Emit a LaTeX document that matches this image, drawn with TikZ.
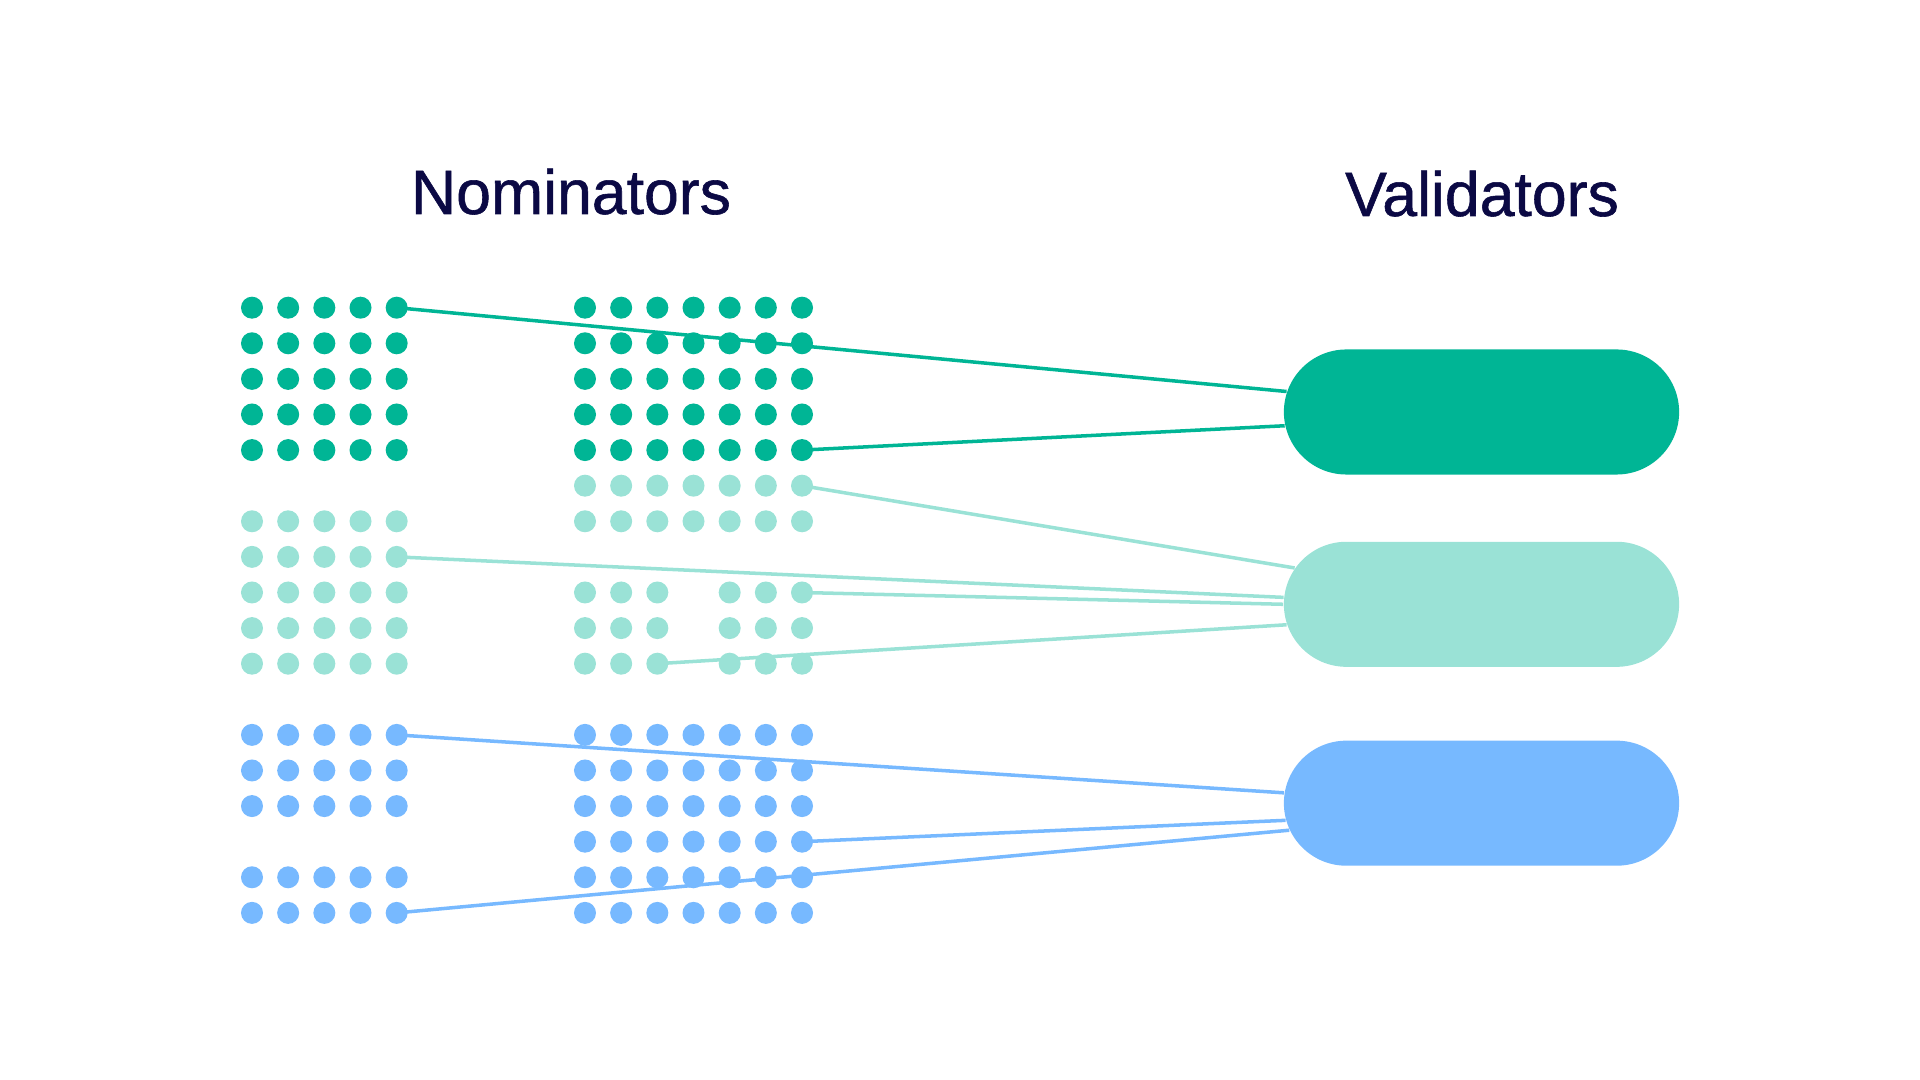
\documentclass[tikz,border=0pt]{standalone}
\usepackage{fontspec}
\setmainfont{Liberation Sans}
\newfontfamily\headfont{Liberation Sans}[
    BoldFont={Liberation Sans},
    BoldFeatures={FakeBold=0.9}
]
\usetikzlibrary{shapes.misc}

\definecolor{navy}{HTML}{0B0944}
\definecolor{stakeA}{HTML}{00B595}
\definecolor{stakeB}{HTML}{9AE2D6}
\definecolor{stakeC}{HTML}{77B9FF}

\begin{document}
\begin{tikzpicture}[
    x=0.01cm,
    y=-0.01cm,
    title/.style={
        anchor=base,
        text=navy,
        font=\headfont\bfseries\fontsize{17.8}{20}\selectfont
    },
    dot/.style={circle, inner sep=0pt, minimum size=0.22cm},
    pill/.style={
        rounded rectangle,
        inner sep=0pt,
        minimum width=3.95cm,
        minimum height=1.25cm
    },
    link/.style={line width=1pt}
]
\useasboundingbox (0,0) rectangle (1920,1080);

% ============================================================
% TYTUŁY
% ============================================================
\node[title] (nom) at (571,214) {Nominators};
\node[title] (val) at (1482,216) {Validators};

% ============================================================
% NOMINATORZY -- LEWA KOLUMNA
% ============================================================
\foreach \r in {0,...,4}
  \foreach \c in {0,...,4}
    \node[dot, fill=stakeA] (L-\r-\c) at (252+36.17*\c, 307.7+35.6*\r) {};
\foreach \r in {6,...,10}
  \foreach \c in {0,...,4}
    \node[dot, fill=stakeB] (L-\r-\c) at (252+36.17*\c, 307.7+35.6*\r) {};
\foreach \r in {12,13,14,16,17}
  \foreach \c in {0,...,4}
    \node[dot, fill=stakeC] (L-\r-\c) at (252+36.17*\c, 307.7+35.6*\r) {};

% ============================================================
% NOMINATORZY -- PRAWA KOLUMNA
% ============================================================
\foreach \r in {0,...,4}
  \foreach \c in {0,...,6}
    \node[dot, fill=stakeA] (R-\r-\c) at (585+36.17*\c, 307.7+35.6*\r) {};
\foreach \r in {5,6}
  \foreach \c in {0,...,6}
    \node[dot, fill=stakeB] (R-\r-\c) at (585+36.17*\c, 307.7+35.6*\r) {};
\foreach \r in {8,9,10}
  \foreach \c in {0,1,2,4,5,6}
    \node[dot, fill=stakeB] (R-\r-\c) at (585+36.17*\c, 307.7+35.6*\r) {};
\foreach \r in {12,...,17}
  \foreach \c in {0,...,6}
    \node[dot, fill=stakeC] (R-\r-\c) at (585+36.17*\c, 307.7+35.6*\r) {};

% ============================================================
% WALIDATORZY
% ============================================================
\node[pill, fill=stakeA] (valA) at (1481.5,412) {};
\node[pill, fill=stakeB] (valB) at (1481.5,604.3) {};
\node[pill, fill=stakeC] (valC) at (1481.5,803.2) {};

% ============================================================
% NOMINACJE
% ============================================================
\draw[link, stakeA] (L-0-4.center) -- (valA.174.5);
\draw[link, stakeA] (R-4-6.center) -- (valA.184);

\draw[link, stakeB] (R-5-6.center) -- (valB.169.4);
\draw[link, stakeB] (L-7-4.center) -- (valB.178.5);
\draw[link, stakeB] (R-8-6.center) -- (valB.180.2);
\draw[link, stakeB] (R-10-2.center) -- (valB.186.4);

\draw[link, stakeC] (L-12-4.center) -- (valC.177.4);
\draw[link, stakeC] (R-15-6.center) -- (valC.185.1);
\draw[link, stakeC] (L-17-4.center) -- (valC.188.8);

\end{tikzpicture}
\end{document}
